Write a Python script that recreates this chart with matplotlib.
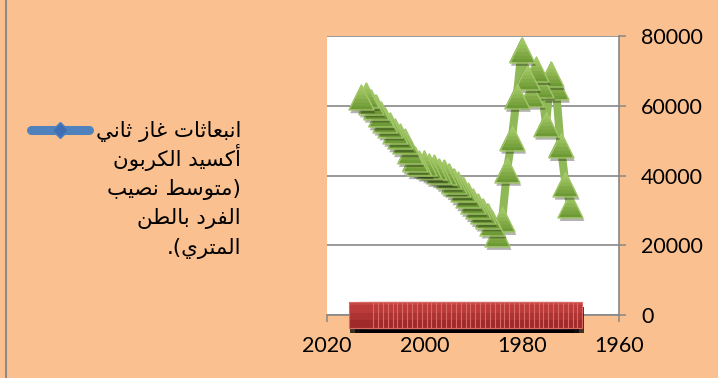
import matplotlib
matplotlib.use("Agg")
import matplotlib.pyplot as plt
import matplotlib.patheffects as pe
from matplotlib.lines import Line2D
from matplotlib.path import Path
import numpy as np

# ---- data (oldest year first) -----------------------------------------
years = [1970, 1971, 1972, 1973, 1974, 1975, 1976, 1977, 1978, 1979,
         1980, 1981, 1982, 1983, 1984, 1985, 1986, 1987, 1988, 1989,
         1990, 1991, 1992, 1993, 1994, 1995, 1996, 1997, 1998, 1999,
         2000, 2001, 2002, 2003, 2004, 2005, 2006, 2007, 2008, 2009,
         2010, 2011, 2012, 2013]
co2_per_capita = [31500, 37600, 48700, 65400, 69100, 54800, 66000, 70500, 63400, 68200,
                  76000, 62800, 50800, 41600, 27500, 23200, 26500, 28500, 29800, 31200,
                  32700, 34300, 36000, 37500, 38500, 39900, 40900, 41300, 42300, 42800,
                  43700, 43500, 44800, 47000, 49800, 51200, 52800, 54600, 56000, 57500,
                  59700, 61200, 63000, 62400]
year_row = [0, 0, 0, 0, 0, 0, 0, 0, 0, 0,
            0, 0, 0, 0, 0, 0, 0, 0, 0, 0,
            0, 0, 0, 0, 0, 0, 0, 0, 0, 0,
            0, 0, 0, 0, 0, 0, 0, 0, 0, 0,
            0, 0, 0, 0]
x_ticks = [2020, 2000, 1980, 1960]
y_ticks = [0, 20000, 40000, 60000, 80000]
legend_lines = ["انبعاثات غاز ثاني", "أكسيد الكربون", "(متوسط نصيب",
                "الفرد بالطن", "المتري)."]

# ---- minimal Arabic shaping (presentation forms + visual order) -------
FORMS = {  # isolated, final, initial, medial
    "ا": ("\uFE8D", "\uFE8E", None, None),
    "أ": ("\uFE83", "\uFE84", None, None),
    "ب": ("\uFE8F", "\uFE90", "\uFE91", "\uFE92"),
    "ت": ("\uFE95", "\uFE96", "\uFE97", "\uFE98"),
    "ث": ("\uFE99", "\uFE9A", "\uFE9B", "\uFE9C"),
    "د": ("\uFEA9", "\uFEAA", None, None),
    "ر": ("\uFEAD", "\uFEAE", None, None),
    "ز": ("\uFEAF", "\uFEB0", None, None),
    "س": ("\uFEB1", "\uFEB2", "\uFEB3", "\uFEB4"),
    "ص": ("\uFEB9", "\uFEBA", "\uFEBB", "\uFEBC"),
    "ط": ("\uFEC1", "\uFEC2", "\uFEC3", "\uFEC4"),
    "ع": ("\uFEC9", "\uFECA", "\uFECB", "\uFECC"),
    "غ": ("\uFECD", "\uFECE", "\uFECF", "\uFED0"),
    "ف": ("\uFED1", "\uFED2", "\uFED3", "\uFED4"),
    "ك": ("\uFED9", "\uFEDA", "\uFEDB", "\uFEDC"),
    "ل": ("\uFEDD", "\uFEDE", "\uFEDF", "\uFEE0"),
    "م": ("\uFEE1", "\uFEE2", "\uFEE3", "\uFEE4"),
    "ن": ("\uFEE5", "\uFEE6", "\uFEE7", "\uFEE8"),
    "و": ("\uFEED", "\uFEEE", None, None),
    "ي": ("\uFEF1", "\uFEF2", "\uFEF3", "\uFEF4"),
}
MIRROR = {"(": ")", ")": "("}


def shape_rtl(text):
    out = []
    for i, ch in enumerate(text):
        if ch not in FORMS:
            out.append(MIRROR.get(ch, ch))
            continue
        prev = text[i - 1] if i > 0 else ""
        nxt = text[i + 1] if i + 1 < len(text) else ""
        join_prev = prev in FORMS and FORMS[prev][2] is not None
        join_next = FORMS[ch][2] is not None and nxt in FORMS
        iso, fin, ini, med = FORMS[ch]
        if join_prev and join_next:
            out.append(med)
        elif join_prev:
            out.append(fin)
        elif join_next:
            out.append(ini)
        else:
            out.append(iso)
    return "".join(reversed(out))


# ---- figure ------------------------------------------------------------
W, H = 718, 378
BG = "#FAC090"
GRID = "#878787"
fig = plt.figure(figsize=(W / 100, H / 100), dpi=100, facecolor=BG)


def fx(px):
    return px / W


def fy(py):
    return 1 - py / H


ax = fig.add_axes([fx(327), fy(315), fx(619) - fx(327), fy(36) - fy(315)])
ax.set_facecolor("white")
ax.set_xlim(2020, 1960)
ax.set_ylim(0, 80000)
ax.set_xticks(x_ticks)
ax.set_yticks(y_ticks)
ax.set_xticklabels([str(v) for v in x_ticks])
ax.set_yticklabels([str(v) for v in y_ticks])
ax.yaxis.tick_right()
ax.yaxis.grid(True, color=GRID, lw=1.2)
ax.set_axisbelow(True)
for side in ("left", "top"):
    ax.spines[side].set_visible(False)
for side in ("bottom", "right"):
    ax.spines[side].set_color(GRID)
    ax.spines[side].set_linewidth(1.2)
ax.tick_params(axis="both", direction="out", length=5, width=1.1, color=GRID,
               labelsize=15.5, labelcolor="black")
ax.tick_params(axis="y", pad=11)
ax.tick_params(axis="x", pad=10)
for lab in ax.get_xticklabels() + ax.get_yticklabels():
    lab.set_family("Lato")

# ---- marker shapes with a vertical gradient ------------------------------
def tri_slice(t):
    h = (1 - t) / 2
    return Path([(0, 1), (-h, t), (h, t), (0, 1)],
                [Path.MOVETO, Path.LINETO, Path.LINETO, Path.CLOSEPOLY])


def sq_slice(t, w=0.92):
    return Path([(-w, 1), (w, 1), (w, t), (-w, t), (-w, 1)],
                [Path.MOVETO, Path.LINETO, Path.LINETO, Path.LINETO, Path.CLOSEPOLY])


def mix(c0, c1, f):
    a = np.array(matplotlib.colors.to_rgb(c0))
    b = np.array(matplotlib.colors.to_rgb(c1))
    return tuple(a + (b - a) * f)


def gradient_marker(x, y, slicer, size, bottom, top, edge, ew, shadow=None, n=7):
    levels = np.linspace(-1, 0.75, n)
    for k, t in enumerate(levels):
        f = k / (len(levels) - 1)
        kw = {}
        if k == 0 and shadow is not None:
            kw["path_effects"] = [shadow, pe.Normal()]
        ax.plot([x], [y], linestyle="none", marker=slicer(t), markersize=size,
                markerfacecolor=mix(bottom, top, f), markeredgewidth=0,
                zorder=4, clip_on=False, **kw)
    ax.plot([x], [y], linestyle="none", marker=slicer(-1), markersize=size,
            markerfacecolor="none", markeredgecolor=edge, markeredgewidth=ew,
            zorder=4, clip_on=False)


# ---- green series ------------------------------------------------------
ax.plot(years, co2_per_capita, color="#8FB856", lw=5.8, solid_joinstyle="round",
        solid_capstyle="round", zorder=3, clip_on=False)
green_shadow = pe.SimplePatchShadow(offset=(1.2, -2.4), shadow_rgbFace="black", alpha=0.3)
for x, y in zip(years, co2_per_capita):
    gradient_marker(x, y, tri_slice, 18, "#6E9A35", "#A9CE6A", "#A2C66A", 1.0,
                    green_shadow)

# ---- red series along the baseline ------------------------------------
ax.plot(years, year_row, linestyle="none", marker=sq_slice(-1), markersize=19,
        markerfacecolor="black", markeredgewidth=0, zorder=4, clip_on=False,
        alpha=0.0,
        path_effects=[pe.SimplePatchShadow(offset=(1.0, -3.8), shadow_rgbFace="black",
                                           alpha=0.75)])
for x, y in zip(years, year_row):
    gradient_marker(x, y, sq_slice, 19, "#A02A2A", "#C84442", "#D86A66", 0.8, n=4)

# ---- legend ------------------------------------------------------------
fig.add_artist(Line2D([fx(31), fx(89)], [fy(130), fy(130)], transform=fig.transFigure,
                      color="#4F81BD", lw=6.5, solid_capstyle="round"))
fig.add_artist(Line2D([fx(60)], [fy(130)], transform=fig.transFigure, marker="D",
                      markersize=8.5, markerfacecolor="#3E6FB3",
                      markeredgecolor="#4F81BD", linestyle="none"))

baselines = [137, 166, 195, 224, 254]
texts = []
for line, by in zip(legend_lines, baselines):
    texts.append(fig.text(fx(241), fy(by), shape_rtl(line), ha="right", va="baseline",
                          fontsize=14, family=["DejaVu Sans"], color="black"))
renderer = fig.canvas.get_renderer()
w0 = texts[0].get_window_extent(renderer).width
scale = 147.0 / w0
for t in texts:
    t.set_fontsize(14 * scale)

# chart-area border on the left edge
fig.add_artist(Line2D([fx(6), fx(6)], [0, 1], transform=fig.transFigure,
                      color="#8C8C8C", lw=1.5))

fig.savefig("out.png", dpi=100, facecolor=BG)
